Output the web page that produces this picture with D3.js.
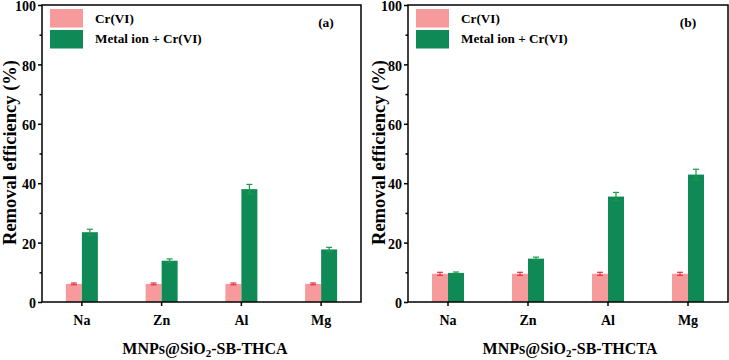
<!DOCTYPE html>
<html><head><meta charset="utf-8">
<script src="https://cdn.jsdelivr.net/npm/d3@7"></script>
</head>
<body style="margin:0;background:#fff"><svg id="c" width="729" height="360"></svg>
<script>
const categories = ["Na","Zn","Al","Mg"];
const seriesNames = ["Cr(VI)","Metal ion + Cr(VI)"];
const crA = [6.1, 6.1, 6.1, 6.1];
const crAErr = [0.3, 0.3, 0.3, 0.3];
const metalA = [23.5, 13.9, 38.0, 17.7];
const metalAErr = [1.0, 0.6, 1.6, 0.7];
const crB = [9.5, 9.5, 9.5, 9.5];
const crBErr = [0.5, 0.5, 0.5, 0.5];
const metalB = [9.8, 14.6, 35.5, 42.9];
const metalBErr = [0.3, 0.5, 1.4, 1.8];
const yTicks = [0, 20, 40, 60, 80, 100];
const yMinor = [10, 30, 50, 70, 90];
const panels = [
  {tag:"(a)", title:"THCA", cr:crA, crErr:crAErr, metal:metalA, metalErr:metalAErr, x0:42, x1:361, titleX:16, tagX:326, xtX:205},
  {tag:"(b)", title:"THCTA", cr:crB, crErr:crBErr, metal:metalB, metalErr:metalBErr, x0:408, x1:728, titleX:385, tagX:688, xtX:570}
];
const colors = ["#f79a9b","#0f8a57"];
const errColors = ["#e0344c","#1a9a4a"];
const FONT = "Liberation Serif";

const svg = d3.select("#c");
const plotTop = 5, plotBottom = 302;
const y = d3.scaleLinear().domain([0,100]).range([plotBottom, plotTop]);

panels.forEach(p => {
  const g = svg.append("g");
  const x = d3.scaleBand().domain(categories).range([p.x0, p.x1]);
  const barW = 16;
  const xs = d3.scaleBand().domain([0,1]).range([-barW, barW]);

  const data = [];
  categories.forEach((c,i) => {
    data.push({c, s:0, v:p.cr[i], e:p.crErr[i]});
    data.push({c, s:1, v:p.metal[i], e:p.metalErr[i]});
  });
  const cx = d => x(d.c) + x.bandwidth()/2 + xs(d.s);
  g.selectAll("rect.bar").data(data).enter().append("rect")
    .attr("x", cx).attr("width", xs.bandwidth())
    .attr("y", d => y(d.v)).attr("height", d => y(0) - y(d.v))
    .attr("fill", d => colors[d.s]);
  const eb = g.selectAll("g.err").data(data).enter().append("g")
    .attr("stroke", d => errColors[d.s]).attr("stroke-width", 1.2);
  const mx = d => cx(d) + xs.bandwidth()/2;
  eb.append("line")
    .attr("x1", mx).attr("x2", mx)
    .attr("y1", d => y(d.v - d.e)).attr("y2", d => y(d.v + d.e));
  eb.append("line")
    .attr("x1", d => mx(d) - 3).attr("x2", d => mx(d) + 3)
    .attr("y1", d => y(d.v + d.e)).attr("y2", d => y(d.v + d.e));
  eb.append("line")
    .attr("x1", d => mx(d) - 3).attr("x2", d => mx(d) + 3)
    .attr("y1", d => y(d.v - d.e)).attr("y2", d => y(d.v - d.e));

  g.append("rect").attr("x", p.x0).attr("y", plotTop).attr("width", p.x1 - p.x0).attr("height", plotBottom - plotTop)
    .attr("fill", "none").attr("stroke", "#000").attr("stroke-width", 1.5);

  const ya = g.append("g").attr("transform", `translate(${p.x0},0)`)
    .call(d3.axisLeft(y).tickValues(yTicks).tickSize(4).tickPadding(2));
  ya.attr("font-family", FONT).attr("font-weight", "bold").attr("font-size", 14);
  ya.select(".domain").remove();
  ya.selectAll("line").attr("stroke-width", 1.5);
  ya.selectAll("text").attr("fill", "#000").attr("dy", "0.4em")
    .attr("font-family", FONT).attr("font-weight", "bold").attr("font-size", 14);
  g.append("g").attr("transform", `translate(${p.x0},0)`)
    .call(d3.axisLeft(y).tickValues(yMinor).tickSize(2.5).tickFormat(""))
    .call(s => { s.select(".domain").remove(); s.selectAll("line").attr("stroke-width", 1.5); });

  const xa = g.append("g").attr("transform", `translate(0,${plotBottom})`)
    .call(d3.axisBottom(x).tickSize(4).tickPadding(9));
  xa.attr("font-family", FONT).attr("font-weight", "bold").attr("font-size", 14);
  xa.select(".domain").remove();
  xa.selectAll("line").attr("stroke-width", 1.5);
  xa.selectAll("text").attr("fill", "#000")
    .attr("font-family", FONT).attr("font-weight", "bold").attr("font-size", 14);

  g.append("text").attr("transform", `translate(${p.titleX},${152.5}) rotate(-90)`)
    .attr("font-family", FONT).attr("font-weight", "bold")
    .attr("text-anchor", "middle").attr("font-size", 18.5).text("Removal efficiency (%)");
  const xt = g.append("text").attr("x", p.xtX).attr("y", 354)
    .attr("font-family", FONT).attr("font-weight", "bold")
    .attr("text-anchor", "middle").attr("font-size", 16);
  xt.append("tspan").text("MNPs@SiO");
  xt.append("tspan").attr("font-size", 11).attr("dy", 3).text("2");
  xt.append("tspan").attr("dy", -3).text("-SB-" + p.title);

  g.append("text").attr("x", p.tagX).attr("y", 27).attr("text-anchor", "middle")
    .attr("font-family", FONT).attr("font-weight", "bold")
    .attr("font-size", 13.5).text(p.tag);

  const lg = g.append("g").attr("transform", `translate(${p.x0 + 8},9)`);
  seriesNames.forEach((n,i) => {
    lg.append("rect").attr("x", 0).attr("y", i*21).attr("width", 33).attr("height", 18.5).attr("fill", colors[i]);
    lg.append("text").attr("x", 45).attr("y", i*20.5 + 13.5)
      .attr("font-family", FONT).attr("font-weight", "bold")
      .attr("font-size", 13.2).text(n);
  });
});
</script></body></html>
